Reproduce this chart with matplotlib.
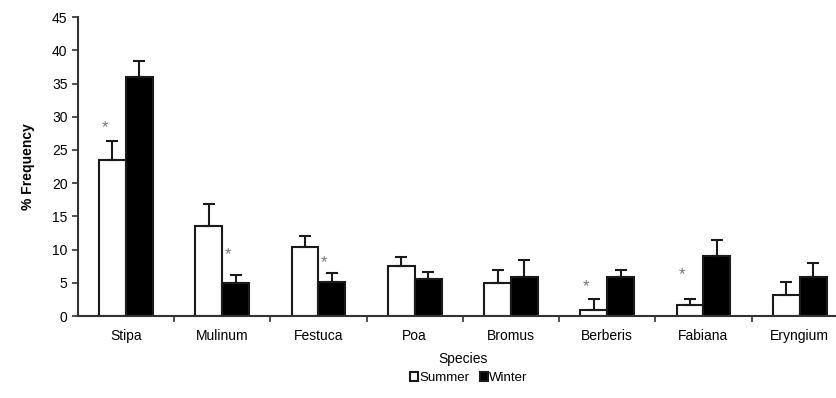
import numpy as np
import matplotlib
matplotlib.use('Agg')
import matplotlib.pyplot as plt

plt.rcParams['font.family'] = ['Liberation Sans', 'DejaVu Sans']

# values
species = ['Stipa', 'Mulinum', 'Festuca', 'Poa', 'Bromus', 'Berberis', 'Fabiana', 'Eryngium']
summer = [23.5, 13.6, 10.4, 7.5, 4.9, 0.9, 1.6, 3.2]
summer_err = [2.9, 3.3, 1.6, 1.4, 2.0, 1.6, 0.9, 1.9]
winter = [36.0, 5.0, 5.1, 5.6, 5.8, 5.8, 9.0, 5.8]
winter_err = [2.4, 1.2, 1.4, 1.1, 2.7, 1.1, 2.4, 2.2]

# significance marks: species index, which bar (-1 summer, 1 winter), height
stars_idx = [0, 1, 2, 5, 6]
stars_side = [-1, 1, 1, -1, -1]
stars_y = [28.3, 9.3, 8.1, 4.4, 6.2]

fig = plt.figure(figsize=(8.37, 3.98), dpi=100)
ax = fig.add_axes([0.093, 0.206, 0.92, 0.751])

x = np.arange(len(species))
w = 0.28
ek = dict(ecolor='#1a1a1a', elinewidth=1.5, capsize=4, capthick=1.5)
ax.bar(x - w/2, summer, w, color='white', edgecolor='#1a1a1a', linewidth=1.5,
       yerr=[np.zeros(len(x)), summer_err], error_kw=ek, label='Summer')
ax.bar(x + w/2, winter, w, color='black', edgecolor='#1a1a1a', linewidth=1.5,
       yerr=[np.zeros(len(x)), winter_err], error_kw=ek, label='Winter')

for i, s, y in zip(stars_idx, stars_side, stars_y):
    ax.text(x[i] + s*w/2 - 0.08, y, '*', ha='center', va='center', fontsize=12, color='#777777')

ax.set_xlim(-0.5, 7.5)
ax.set_ylim(0, 45)
ax.set_yticks(range(0, 46, 5))
ax.set_xticks(x)
ax.set_xticklabels(species, fontsize=10)
ax.set_xticks(np.arange(0.5, 7.6, 1), minor=True)
ax.tick_params(axis='x', which='major', length=0, pad=9)
ax.tick_params(axis='x', which='minor', length=4, width=1.2, color='#333333')
ax.tick_params(axis='y', labelsize=10, length=4, width=1.2, color='#333333')

for sp in ['top', 'right']:
    ax.spines[sp].set_visible(False)
for sp in ['left', 'bottom']:
    ax.spines[sp].set_linewidth(1.5)
    ax.spines[sp].set_color('#333333')

ax.set_ylabel('% Frequency', fontsize=10, fontweight='bold', labelpad=12)
ax.set_xlabel('Species', fontsize=10, labelpad=7)

fig.legend(loc='center', bbox_to_anchor=(0.56, 0.05), ncol=2, frameon=False, fontsize=9.5,
           handlelength=0.6, handleheight=0.6, handletextpad=0.1, columnspacing=0.8)

fig.savefig('out.png', dpi=100)
